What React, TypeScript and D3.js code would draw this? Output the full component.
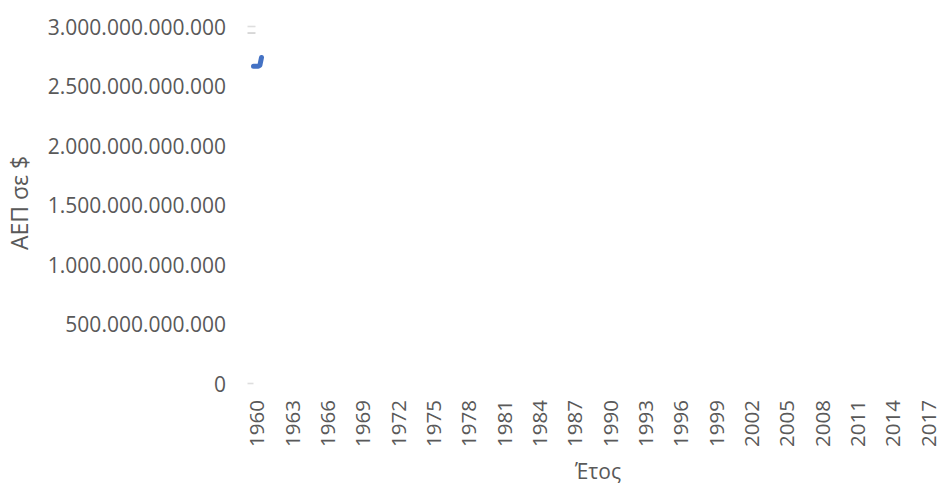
import React from "react";
import * as d3 from "d3";

const years: number[] = d3.range(1960, 2018);
const yTicks: number[] = [0, 500e9, 1000e9, 1500e9, 2000e9, 2500e9, 3000e9];
const lineIndex: number[] = [0, 1, 2, 3, 4, 5];
const lineValues: number[] = [2.665e12, 2.665e12, 2.665e12, 2.665e12, 2.675e12, 2.74e12];
const markValues: number[] = [3000e9, 2945e9, 0];

const W = 940;
const H = 487;
const FONT = "'Open Sans', sans-serif";
const TEXT = "#595959";

const fmt = (v: number) =>
  v === 0 ? "0" : d3.format(",.0f")(v).replace(/,/g, ".");

export default function App() {
  const x = d3.scaleBand<number>().domain(years).range([250.5, 933.5]);
  const y = d3.scaleLinear().domain([0, 3000e9]).range([383.5, 26.5]);
  const bw = x.bandwidth();
  const x0 = x(1960)!;
  const inner = d3.scaleLinear().domain([0, 5]).range([x0 + 3, x0 + 11]);
  const line = d3
    .line<number>()
    .x((_, i) => inner(lineIndex[i]))
    .y((v) => y(v));
  const labelYears = years.filter((yr) => (yr - 1960) % 3 === 0);

  return (
    <svg
      width={W}
      height={H}
      style={{ position: "absolute", left: 0, top: 0, background: "#fff" }}
    >
      {markValues.map((v, i) => (
        <line
          key={i}
          x1={x0 - 3}
          x2={x0 + (i === 2 ? 3 : 5)}
          y1={y(v)}
          y2={y(v)}
          stroke={i === 1 ? "#d0d0d0" : "#dedede"}
          strokeWidth={1.6}
        />
      ))}
      {yTicks.map((t) => (
        <text
          key={t}
          x={226}
          y={y(t)}
          textAnchor="end"
          dominantBaseline="central"
          fontFamily={FONT}
          fontSize={21}
          fill={TEXT}
        >
          {fmt(t)}
        </text>
      ))}
      {labelYears.map((yr) => (
        <text
          key={yr}
          transform={`translate(${x(yr)! + bw / 2},400) rotate(-90)`}
          textAnchor="end"
          dominantBaseline="central"
          fontFamily={FONT}
          fontSize={20.5}
          fill={TEXT}
        >
          {yr}
        </text>
      ))}
      <path
        d={line(lineValues) || ""}
        fill="none"
        stroke="#4472C4"
        strokeWidth={5}
        strokeLinecap="round"
        strokeLinejoin="round"
      />
      <text
        x={598}
        y={479}
        textAnchor="middle"
        fontFamily={FONT}
        fontSize={21}
        fill={TEXT}
      >
        Έτος
      </text>
      <text
        transform="translate(28,203) rotate(-90)"
        textAnchor="middle"
        fontFamily={FONT}
        fontSize={23}
        fill={TEXT}
      >
        ΑΕΠ σε $
      </text>
    </svg>
  );
}
